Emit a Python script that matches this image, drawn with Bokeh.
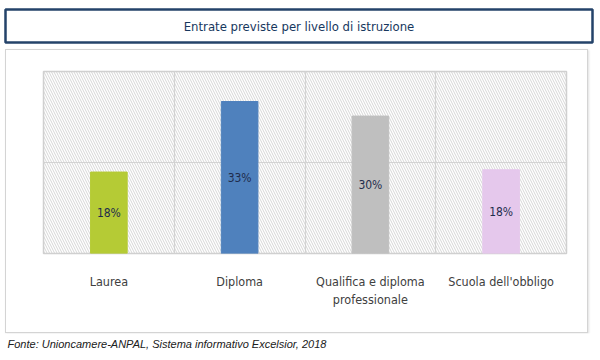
from bokeh.plotting import figure
from bokeh.models import (ColumnDataSource, FixedTicker, BoxAnnotation, Label,
                          Range1d, Spacer)
from bokeh.layouts import column, row
from bokeh.core.properties import value
from bokeh.embed import file_html
from bokeh.resources import INLINE

categories = ["Laurea", "Diploma", "Qualifica e diploma\nprofessionale", "Scuola dell'obbligo"]
shares = [17.9, 33.4, 30.2, 18.4]
colors = ["#B5CB35", "#4F81BD", "#BFBFBF", "#E5C8EC"]
title_text = "Entrate previste per livello di istruzione"
source_text = "Fonte: Unioncamere-ANPAL, Sistema informativo Excelsior, 2018"

NARROW = "Liberation Sans Narrow, DejaVu Sans Condensed, sans-serif"


def blank(width, height, **kw):
    f = figure(width=width, height=height, x_range=Range1d(0, 1), y_range=Range1d(0, 1),
               output_backend="svg", toolbar_location=None, **kw)
    f.axis.visible = False
    f.grid.visible = False
    f.background_fill_color = "white"
    f.border_fill_color = "white"
    return f


# ---- title box ----
tf = blank(600, 49, min_border_left=5, min_border_right=8, min_border_top=9, min_border_bottom=7)
tf.outline_line_color = "#24436A"
tf.outline_line_width = 2.5
tf.add_layout(Label(x=0.5, y=0.5, text=title_text, text_align="center", text_baseline="middle",
                    text_font=NARROW, text_font_size="13px", text_color="#17375E"))

# ---- chart ----
src = ColumnDataSource(dict(
    cat=categories,
    val=shares,
    mid=[v / 2 for v in shares],
    lab=[f"{v:.0f}%" for v in shares],
    col=colors,
))

p = figure(x_range=categories, y_range=Range1d(0, 40),
           width=583, height=284,
           min_border_left=37, min_border_right=23, min_border_top=21, min_border_bottom=81,
           output_backend="svg", toolbar_location=None,
           styles={"border": "1px solid #D4D4D4", "box-shadow": "1px 1px 2px #E0E0E0"})
p.background_fill_color = "white"
p.border_fill_color = "white"
p.outline_line_color = "#D0D0D0"
p.outline_line_width = 1.5

p.add_layout(BoxAnnotation(fill_alpha=0, line_alpha=0,
                           hatch_pattern="\\", hatch_color="#CCCCCC",
                           hatch_scale=5, hatch_weight=0.8, hatch_alpha=1,
                           level="underlay"))

p.vbar(x="cat", top="val", width=0.28, color="col", source=src)
p.text(x="cat", y="mid", text="lab", source=src, text_align="center",
       text_baseline="middle", text_font=value(NARROW), text_font_size="12px",
       text_color="#1F2D4D")

p.xgrid.ticker = FixedTicker(ticks=[1, 2, 3])
p.ygrid.ticker = FixedTicker(ticks=[20])
for g in (p.xgrid, p.ygrid):
    g.grid_line_color = "#D6D6D6"
    g.grid_line_width = 1.2
    g.level = "underlay"

p.yaxis.visible = False
xa = p.xaxis[0]
xa.axis_line_color = None
xa.major_tick_line_color = None
xa.minor_tick_line_color = None
xa.major_label_standoff = 14
xa.major_label_text_font = NARROW
xa.major_label_text_font_size = "12.5px"
xa.major_label_text_color = "#404040"

# ---- footer ----
ff = blank(600, 27, min_border_left=0, min_border_right=0, min_border_top=0, min_border_bottom=0)
ff.outline_line_color = None
ff.add_layout(Label(x=2, y=0.62, x_units="screen", text=source_text, text_align="left",
                    text_baseline="middle", text_font="Liberation Sans",
                    text_font_style="italic", text_font_size="11px", text_color="#202020"))

layout = column(tf, row(Spacer(width=5, height=284), p), ff, spacing=0)

open("out.html", "w").write(file_html(layout, INLINE))
